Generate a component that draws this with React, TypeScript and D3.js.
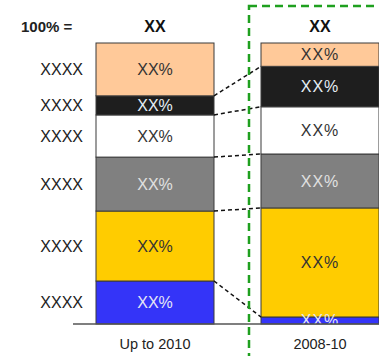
import React from "react";
import * as d3 from "d3";

const periods = ["Up to 2010", "2008-10"];
const segmentNames = ["XXXX", "XXXX", "XXXX", "XXXX", "XXXX", "XXXX"]; // bottom -> top
const segmentLabels = ["XX%", "XX%", "XX%", "XX%", "XX%", "XX%"];
const totals = ["XX", "XX"];
const shareUpTo2010 = [15.3, 24.9, 19.2, 15.0, 6.8, 18.8];
const share2008_10 = [2.5, 38.8, 19.2, 16.8, 14.4, 8.3];
const segmentColors = ["#3434F8", "#FFCC00", "#808080", "#FFFFFF", "#1E1E1E", "#FFC999"];
const labelColors = ["#E6E6F5", "#333333", "#E0E0E0", "#333333", "#E6EEF5", "#333333"];

const W = 379;
const H = 356;
const FONT = "'Liberation Sans', Arial, sans-serif";

export default function App() {
  const series = [shareUpTo2010, share2008_10];
  const y = d3.scaleLinear().domain([0, 100]).range([324, 43]);
  const x = d3
    .scaleBand<string>()
    .domain(periods)
    .range([96, 379])
    .paddingInner(47 / 165)
    .paddingOuter(0);
  const bw = x.bandwidth();

  const stacks = series.map((vals) => {
    let acc = 0;
    return vals.map((v) => {
      const s = { y0: acc, y1: acc + v };
      acc += v;
      return s;
    });
  });

  const x1 = (x(periods[0]) ?? 0) + bw;
  const x2 = x(periods[1]) ?? 0;

  return (
    <svg
      width={W}
      height={H}
      style={{ position: "absolute", left: 0, top: 0, display: "block", background: "#fff" }}
      fontFamily={FONT}
    >
      <defs>
        <clipPath id="plotclip">
          <rect x={0} y={0} width={W} height={324} />
        </clipPath>
      </defs>

      {/* bars */}
      {stacks.map((st, bi) => (
        <g key={bi}>
          {st.map((s, si) => (
            <rect
              key={si}
              x={x(periods[bi])}
              y={y(s.y1)}
              width={bw}
              height={y(s.y0) - y(s.y1)}
              fill={segmentColors[si]}
              stroke="#3a3a3a"
              strokeWidth={1}
            />
          ))}
        </g>
      ))}

      {/* segment labels */}
      {stacks.map((st, bi) => (
        <g key={"l" + bi} clipPath="url(#plotclip)">
          {st.map((s, si) => (
            <text
              key={si}
              x={(x(periods[bi]) ?? 0) + bw / 2}
              y={(y(s.y0) + y(s.y1)) / 2}
              dy="0.36em"
              textAnchor="middle"
              fontSize={16}
              letterSpacing={bi === 1 ? 1 : 0}
              fill={labelColors[si]}
            >
              {segmentLabels[si]}
            </text>
          ))}
        </g>
      ))}

      {/* connectors */}
      {stacks[0].slice(0, -1).map((s, si) => (
        <line
          key={"c" + si}
          x1={x1}
          y1={y(s.y1)}
          x2={x2}
          y2={y(stacks[1][si].y1)}
          stroke="#111"
          strokeWidth={1.5}
          strokeDasharray="4,3"
        />
      ))}

      {/* baseline */}
      <line x1={73} x2={379} y1={y(0)} y2={y(0)} stroke="#555" strokeWidth={1.5} />

      {/* category labels */}
      {stacks[0].map((s, si) => (
        <text
          key={"n" + si}
          x={83}
          y={(y(s.y0) + y(s.y1)) / 2}
          dy="0.36em"
          textAnchor="end"
          fontSize={16}
          fill="#222"
        >
          {segmentNames[si]}
        </text>
      ))}

      {/* header */}
      <text x={21} y={32} fontSize={15} fontWeight="bold" fill="#222">
        100% =
      </text>
      {periods.map((p, i) => (
        <text
          key={"t" + i}
          x={(x(p) ?? 0) + bw / 2}
          y={32}
          textAnchor="middle"
          fontSize={16}
          fontWeight="bold"
          fill="#111"
        >
          {totals[i]}
        </text>
      ))}

      {/* axis labels */}
      {periods.map((p, i) => (
        <text
          key={"a" + i}
          x={(x(p) ?? 0) + bw / 2}
          y={349}
          textAnchor="middle"
          fontSize={14.5}
          fill="#222"
        >
          {p}
        </text>
      ))}

      {/* green dashed highlight box */}
      <rect
        x={249}
        y={6}
        width={200}
        height={400}
        fill="none"
        stroke="#1FA01F"
        strokeWidth={2.5}
        strokeDasharray="8,5"
      />
    </svg>
  );
}
